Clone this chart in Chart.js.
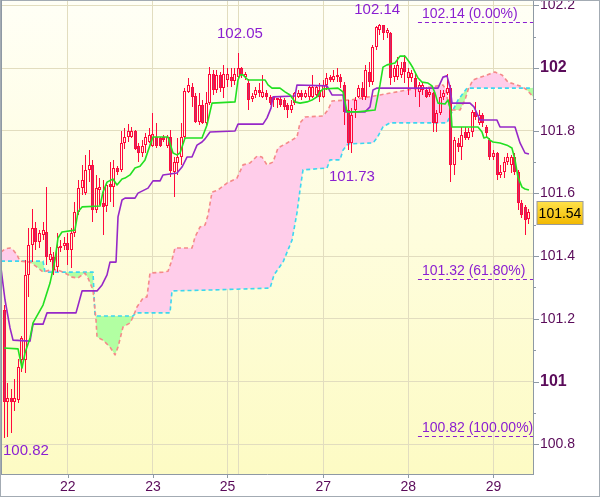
<!DOCTYPE html>
<html lang="en">
<head>
<meta charset="UTF-8">
<title>Ichimoku</title>
<script src="https://cdn.jsdelivr.net/npm/chart.js@4.4.1/dist/chart.umd.min.js"></script>
<style>
  html, body { margin: 0; padding: 0; background: #fff; }
  #wrap { width: 600px; height: 497px; }
</style>
</head>
<body>
<div id="wrap"><canvas id="chart" width="600" height="497"></canvas></div>
<script>
// hourly candles, x = slot number from the left edge
const opens = [101.228,100.935,100.947,100.935,100.941,101.069,101.069,101.340,101.436,101.490,
  101.445,101.467,101.477,101.388,101.397,101.365,101.426,101.432,101.442,101.420,
  101.474,101.541,101.617,101.601,101.675,101.691,101.547,101.611,101.569,101.560,
  101.630,101.620,101.681,101.675,101.761,101.780,101.780,101.799,101.751,101.729,
  101.754,101.764,101.751,101.780,101.777,101.780,101.751,101.780,101.668,101.697,
  101.716,101.780,101.924,101.939,101.911,101.828,101.882,101.825,101.888,101.981,
  101.930,101.978,101.936,101.962,101.971,101.958,101.971,102.000,101.971,101.952,
  101.901,101.914,101.930,101.908,101.920,101.908,101.908,101.898,101.901,101.898,
  101.882,101.866,101.888,101.908,101.920,101.908,101.908,101.908,101.914,101.930,
  101.908,101.946,101.971,101.962,101.971,101.971,101.946,101.866,101.761,101.866,
  101.908,101.936,101.908,101.987,101.955,102.067,102.121,102.137,102.112,102.112,
  101.971,101.971,101.978,102.019,101.968,101.968,101.968,101.924,101.930,101.930,
  101.914,101.920,101.825,101.857,101.908,101.920,101.936,101.691,101.761,101.748,
  101.796,101.777,101.796,101.860,101.825,101.850,101.812,101.770,101.716,101.729,
  101.659,101.668,101.700,101.691,101.716,101.668,101.569,101.557,101.518];
const highs = [101.244,100.995,100.976,101.008,101.072,101.145,101.388,101.490,101.550,101.509,
  101.483,101.509,101.620,101.429,101.413,101.474,101.451,101.461,101.474,101.490,
  101.573,101.643,101.691,101.723,101.738,101.707,101.659,101.649,101.643,101.633,
  101.700,101.707,101.687,101.799,101.809,101.821,101.812,101.802,101.761,101.770,
  101.793,101.809,101.857,101.825,101.780,101.786,101.786,101.802,101.716,101.777,
  101.825,101.936,101.968,101.952,101.920,101.920,101.898,101.924,102.003,101.994,
  101.994,101.987,102.010,102.000,102.000,102.000,102.048,102.003,101.987,101.965,
  101.920,101.939,101.952,101.978,101.930,101.914,101.908,101.904,101.908,101.904,
  101.888,101.898,101.924,101.930,101.930,101.930,101.946,101.978,101.946,101.952,
  101.962,101.984,101.978,101.994,102.000,101.981,101.955,101.898,101.872,101.908,
  101.946,101.955,102.010,102.019,102.073,102.135,102.140,102.137,102.128,102.115,
  102.010,102.035,102.019,102.042,102.000,101.994,101.987,101.955,101.955,101.939,
  101.936,101.924,101.866,101.930,101.930,101.981,101.946,101.780,101.777,101.812,
  101.812,101.809,101.866,101.892,101.866,101.857,101.818,101.777,101.738,101.732,
  101.691,101.716,101.729,101.723,101.729,101.675,101.579,101.563,101.550];
const lows = [100.820,100.822,100.836,100.906,100.932,101.030,101.027,101.270,101.381,101.420,
  101.426,101.451,101.372,101.381,101.340,101.349,101.413,101.420,101.372,101.362,
  101.461,101.531,101.595,101.595,101.636,101.509,101.538,101.563,101.467,101.541,
  101.573,101.557,101.659,101.668,101.742,101.764,101.777,101.738,101.700,101.716,
  101.729,101.761,101.748,101.745,101.748,101.764,101.745,101.652,101.589,101.659,
  101.691,101.777,101.920,101.876,101.825,101.818,101.821,101.818,101.882,101.914,
  101.920,101.924,101.904,101.939,101.939,101.946,101.962,101.968,101.962,101.866,
  101.892,101.904,101.908,101.904,101.898,101.882,101.876,101.872,101.876,101.866,
  101.841,101.857,101.882,101.904,101.898,101.904,101.898,101.904,101.904,101.892,
  101.904,101.930,101.955,101.955,101.955,101.936,101.818,101.740,101.730,101.841,
  101.904,101.898,101.898,101.939,101.946,102.058,102.105,102.089,102.096,101.946,
  101.955,101.962,101.968,101.952,101.914,101.955,101.908,101.876,101.914,101.904,
  101.908,101.796,101.796,101.850,101.898,101.914,101.636,101.659,101.732,101.707,
  101.770,101.770,101.780,101.834,101.818,101.812,101.777,101.707,101.707,101.643,
  101.649,101.649,101.691,101.665,101.659,101.547,101.522,101.467,101.502];
const closes = [100.935,100.947,100.935,100.947,101.046,101.139,101.340,101.436,101.490,101.445,
  101.474,101.483,101.397,101.407,101.356,101.429,101.432,101.442,101.420,101.474,
  101.541,101.617,101.643,101.675,101.691,101.547,101.617,101.620,101.557,101.627,
  101.620,101.681,101.668,101.761,101.780,101.799,101.799,101.742,101.729,101.751,
  101.780,101.786,101.790,101.751,101.751,101.770,101.780,101.672,101.700,101.716,
  101.780,101.927,101.946,101.908,101.828,101.882,101.825,101.888,101.981,101.930,
  101.978,101.936,101.981,101.981,101.958,101.981,102.000,101.978,101.981,101.898,
  101.911,101.930,101.920,101.924,101.908,101.888,101.898,101.904,101.882,101.876,
  101.866,101.882,101.920,101.920,101.908,101.920,101.939,101.939,101.939,101.908,
  101.946,101.968,101.962,101.975,101.978,101.955,101.860,101.761,101.850,101.898,
  101.936,101.908,101.994,101.955,102.067,102.131,102.137,102.112,102.121,101.968,
  102.000,102.010,102.000,101.987,101.987,101.984,101.936,101.946,101.946,101.908,
  101.924,101.825,101.857,101.908,101.920,101.936,101.691,101.770,101.748,101.786,
  101.777,101.796,101.860,101.844,101.850,101.825,101.793,101.716,101.729,101.659,
  101.668,101.700,101.716,101.716,101.668,101.569,101.531,101.515,101.541];

// ichimoku lines, [slot, price] at each corner of the drawn line
const tenkan = [[0,101.107],[3.95,101.104],[5.07,101.043],[5.92,101.091],[7.33,101.139],[8.18,101.187],
  [11,101.244],[12.97,101.314],[14.38,101.388],[15.22,101.458],[16.35,101.477],[20,101.483],
  [20.86,101.541],[22,101.557],[27.07,101.560],[27.9,101.604],[29.04,101.636],[30.73,101.646],
  [31.86,101.627],[33.27,101.646],[34.11,101.649],[35.52,101.659],[36.93,101.681],[38.34,101.687],
  [39.75,101.707],[41.16,101.754],[42,101.780],[46.24,101.780],[47.65,101.729],[48.77,101.723],
  [49.62,101.729],[51.03,101.777],[55.82,101.777],[57.23,101.818],[58.64,101.888],[65.13,101.892],
  [65.97,101.962],[66.54,101.978],[67.38,101.978],[68.79,101.962],[73.58,101.962],[74.43,101.946],
  [75.56,101.936],[77.81,101.936],[79.22,101.924],[80.63,101.914],[82.04,101.892],[83.45,101.888],
  [85.42,101.892],[86.83,101.898],[88.24,101.908],[89.09,101.924],[89.93,101.933],[94.16,101.936],
  [95.57,101.924],[96.7,101.860],[99.8,101.860],[104.6,101.866],[106,101.946],[106.85,102.003],
  [107.98,102.010],[110.23,102.016],[111.64,102.038],[113.05,102.038],[114.46,102.016],[115.31,102.000],
  [116.72,101.968],[117.85,101.955],[119.54,101.952],[120.67,101.943],[121.51,101.920],[122.36,101.888],
  [124.33,101.885],[125.18,101.898],[126.02,101.860],[126.3,101.812],[133.63,101.812],[134.76,101.796],
  [135.3,101.777],[136.17,101.780],[137,101.770],[137.86,101.764],[139.84,101.761],[141.8,101.754],
  [143.2,101.745],[144.07,101.707],[144.9,101.652],[146.04,101.620],[146.89,101.614],[148,101.611]];
const kijun = [[-0.85,101.362],[0.28,101.260],[1.69,101.171],[2.54,101.132],[7.33,101.129],[8.18,101.183],
  [11,101.183],[12.12,101.219],[20.3,101.219],[22,101.289],[26.22,101.289],[27.63,101.308],
  [29.04,101.340],[29.88,101.381],[31.58,101.381],[32.14,101.525],[33.27,101.579],[34.11,101.585],
  [36.93,101.585],[37.78,101.601],[40.6,101.617],[42,101.640],[44,101.640],[44.83,101.659],
  [48.77,101.665],[50.18,101.684],[51.59,101.716],[53,101.716],[54.41,101.754],[55.82,101.764],
  [56.67,101.774],[58.08,101.796],[65.13,101.799],[65.97,101.821],[73.02,101.821],[74.15,101.841],
  [75.27,101.872],[75.84,101.908],[82.04,101.911],[82.6,101.946],[91.06,101.943],[92.47,101.914],
  [95.57,101.914],[96.14,101.860],[101.78,101.860],[103.19,101.876],[104.03,101.930],[105.16,101.936],
  [122.36,101.936],[123.77,101.971],[124.89,101.975],[125.74,101.939],[126.3,101.888],[131.38,101.888],
  [132.5,101.876],[134.2,101.834],[138.99,101.834],[139.84,101.812],[144.07,101.812],[145.48,101.761],
  [146.89,101.729],[148,101.726]];
const spanA = [[-0.85,101.413],[0.28,101.423],[1.69,101.426],[2.54,101.420],[3.67,101.404],[4.51,101.384],
  [7.33,101.381],[9.3,101.365],[11,101.349],[12.97,101.356],[15.22,101.356],[17.2,101.346],
  [19.17,101.333],[20.86,101.330],[22,101.340],[22.84,101.346],[23.68,101.330],[25.09,101.292],
  [25.94,101.196],[26.22,101.142],[27.9,101.132],[29.88,101.110],[31.3,101.085],[32.14,101.110],
  [33.55,101.174],[35.52,101.187],[36.37,101.206],[37.5,101.238],[39.19,101.266],[40.3,101.270],
  [41.16,101.346],[44.83,101.349],[46.24,101.352],[47.36,101.388],[48.21,101.426],[53,101.426],
  [53.85,101.461],[55.26,101.493],[56.67,101.499],[57.51,101.531],[58.64,101.604],[60.33,101.611],
  [62.87,101.633],[65.69,101.649],[67.38,101.691],[69.35,101.697],[71.33,101.719],[72.74,101.716],
  [74.15,101.691],[75.84,101.700],[77.25,101.745],[79.79,101.761],[82.6,101.780],[83.45,101.825],
  [84.86,101.844],[89.93,101.847],[91.34,101.866],[92.47,101.895],[97.55,101.898],[106,101.914],
  [110.8,101.924],[115.31,101.933],[120.1,101.939],[123.77,101.946],[124.61,101.930],[125.18,101.888],
  [126.3,101.866],[128.56,101.866],[129.97,101.898],[130.82,101.930],[132.2,101.962],[136.17,101.978],
  [138.4,101.987],[140.4,101.978],[142.1,101.955],[144.6,101.946],[146.3,101.939],[147.45,101.930],
  [149.14,101.908]];
const spanB = [[-0.85,101.384],[11,101.384],[11.56,101.349],[25.09,101.349],[25.66,101.209],[36.37,101.209],
  [37.2,101.219],[46.8,101.219],[47.36,101.289],[58.64,101.292],[75,101.298],[76.12,101.340],
  [78.66,101.381],[81.2,101.451],[82.6,101.538],[83.45,101.611],[84.3,101.675],[91.06,101.681],
  [91.91,101.707],[94.73,101.707],[95.57,101.738],[96.98,101.758],[104.03,101.761],[105.16,101.777],
  [106.85,101.812],[108.82,101.825],[124.89,101.825],[126.3,101.860],[128,101.898],[130.53,101.936],
  [149.14,101.936]];

const dayTicks = [18, 42, 63, 66, 90, 114, 138];
const dayLabels = ['22', '23', '25', '', '27', '28', '29'];

const fibValues = [102.14, 101.32, 100.82];
const fibLabels = ['102.14 (0.00%)', '101.32 (61.80%)', '100.82 (100.00%)'];
const fibStart = 116.7;

const extremeSlots = [66.5, 105.2, 98.1, 0];
const extremeValues = [102.05, 102.14, 101.73, 100.82];
const extremeLabels = ['102.05', '102.14', '101.73', '100.82'];
const extremeSides = ['above', 'above', 'below', 'below'];

const lastPrice = 101.54;

const FONT = '"Liberation Sans", Arial, sans-serif';
const RED = '#ff0a3c';
const AXIS = '#8e99a4';
const GRID = '#e2ddbf';
const LABEL = '#5a0b5a';
const ANNO = '#8b1fd1';
const labelGap = [18, 15, 24, 13];

const slots = closes.map((c, i) => i);
const bodies = slots.map(i => ({x: i, y: [opens[i], closes[i]]}));
const upperWicks = slots.map(i => ({x: i, y: [Math.max(opens[i], closes[i]), Math.max(highs[i], opens[i], closes[i])]}));
const lowerWicks = slots.map(i => ({x: i, y: [Math.min(lows[i], opens[i], closes[i]), Math.min(opens[i], closes[i])]}));
const toXY = arr => arr.map(p => ({x: p[0], y: p[1]}));

function isMajor(v) { return Math.round(v * 10) % 2 === 0; }
function isWhole(v) { return Math.abs(v - Math.round(v)) < 1e-6; }

const background = {
  id: 'background',
  beforeDraw(chart) {
    const {ctx, chartArea: a} = chart;
    ctx.save();
    ctx.fillStyle = '#ffffff';
    ctx.fillRect(0, 0, chart.width, chart.height);
    const g = ctx.createLinearGradient(0, a.top, 0, a.bottom);
    g.addColorStop(0, '#fffff6');
    g.addColorStop(1, '#fdfbc4');
    ctx.fillStyle = g;
    ctx.fillRect(a.left, a.top, a.right - a.left, a.bottom - a.top);
    ctx.restore();
  }
};

// snap candle bars to whole pixels so they stay crisp
const snapBars = {
  id: 'snapBars',
  beforeDatasetsDraw(chart) {
    chart.data.datasets.forEach((ds, i) => {
      const meta = chart.getDatasetMeta(i);
      if (meta.type !== 'bar') return;
      meta.data.forEach(el => {
        el.x = Math.floor(el.x) + 0.5;
        let top = Math.round(Math.min(el.y, el.base));
        let bot = Math.round(Math.max(el.y, el.base));
        if (bot - top < 1) bot = top + 1;
        el.y = top;
        el.base = bot;
      });
    });
  }
};

const overlay = {
  id: 'overlay',
  afterDatasetsDraw(chart) {
    const {ctx, chartArea: a, scales: {x, y}} = chart;
    ctx.save();
    ctx.beginPath();
    ctx.rect(a.left, a.top, a.right - a.left, a.bottom - a.top);
    ctx.clip();
    // fibonacci levels
    ctx.strokeStyle = ANNO;
    ctx.fillStyle = ANNO;
    ctx.lineWidth = 1;
    ctx.setLineDash([4, 3]);
    ctx.font = '14px ' + FONT;
    ctx.textAlign = 'left';
    ctx.textBaseline = 'bottom';
    const fx = x.getPixelForValue(fibStart);
    fibValues.forEach((v, k) => {
      const py = Math.round(y.getPixelForValue(v)) - 1.5;
      ctx.beginPath();
      ctx.moveTo(fx, py);
      ctx.lineTo(a.right, py);
      ctx.stroke();
      ctx.fillText(fibLabels[k], fx + 4, py - 1);
    });
    ctx.setLineDash([]);
    // high / low labels
    ctx.font = '15px ' + FONT;
    ctx.textAlign = 'center';
    ctx.textBaseline = 'middle';
    extremeValues.forEach((v, k) => {
      const w = ctx.measureText(extremeLabels[k]).width;
      let px = x.getPixelForValue(extremeSlots[k]);
      px = Math.max(px, a.left + 2 + w / 2);
      let py = y.getPixelForValue(v) + (extremeSides[k] === 'above' ? -labelGap[k] : labelGap[k]);
      py = Math.max(a.top + 10, Math.min(a.bottom - 10, py));
      ctx.fillText(extremeLabels[k], px, py);
    });
    ctx.restore();
  },
  afterDraw(chart) {
    const {ctx, chartArea: a, scales: {x, y}} = chart;
    ctx.save();
    ctx.strokeStyle = AXIS;
    ctx.lineWidth = 1;
    // tick marks
    for (let k = 1008; k <= 1022; k++) {
      const py = Math.round(y.getPixelForValue(k / 10)) + 0.5;
      ctx.beginPath();
      ctx.moveTo(a.right, py);
      ctx.lineTo(a.right + (isMajor(k / 10) ? 6 : 3), py);
      ctx.stroke();
    }
    dayTicks.forEach((d, k) => {
      if (!dayLabels[k]) return;
      const px = Math.round(x.getPixelForValue(d)) + 0.5;
      ctx.beginPath();
      ctx.moveTo(px, a.bottom);
      ctx.lineTo(px, a.bottom + 4);
      ctx.stroke();
    });
    // last price box
    const ly = y.getPixelForValue(lastPrice);
    const bx = a.right + 4, bw = 46, bh = 23, by = Math.round(ly - bh / 2) + 0.5;
    const g = ctx.createLinearGradient(0, by, 0, by + bh);
    g.addColorStop(0, '#ffe24a');
    g.addColorStop(1, '#f2b800');
    ctx.fillStyle = g;
    ctx.fillRect(bx, by, bw, bh);
    ctx.strokeStyle = '#9a9a9a';
    ctx.strokeRect(bx, by, bw, bh);
    ctx.fillStyle = '#000';
    ctx.font = '14px ' + FONT;
    ctx.textAlign = 'center';
    ctx.textBaseline = 'middle';
    ctx.fillText(lastPrice.toFixed(2), bx + bw / 2, by + bh / 2 + 1);
    // frame
    ctx.strokeStyle = '#a3abb3';
    ctx.strokeRect(0.5, 0.5, chart.width - 1, chart.height - 1);
    ctx.strokeStyle = AXIS;
    ctx.beginPath();
    ctx.moveTo(a.left + 0.5, a.top);
    ctx.lineTo(a.left + 0.5, a.bottom);
    ctx.stroke();
    ctx.restore();
  }
};

const barCommon = {
  type: 'bar',
  grouped: false,
  borderSkipped: false,
  inflateAmount: 0
};

new Chart('chart', {
  type: 'line',
  data: {
    datasets: [
      {
        label: 'Senkou B',
        data: toXY(spanB),
        borderColor: '#3cd6f0',
        borderWidth: 1.6,
        borderDash: [4, 3],
        pointRadius: 0,
        fill: false,
        order: 6
      },
      {
        label: 'Senkou A',
        data: toXY(spanA),
        borderColor: '#f58a8a',
        borderWidth: 1.6,
        borderDash: [4, 3],
        pointRadius: 0,
        fill: {target: 0, above: '#ffcdea', below: '#b2ffa2'},
        order: 5
      },
      Object.assign({}, barCommon, {
        label: 'upper wick',
        data: upperWicks,
        barThickness: 1,
        backgroundColor: RED,
        borderWidth: 0,
        order: 4
      }),
      Object.assign({}, barCommon, {
        label: 'lower wick',
        data: lowerWicks,
        barThickness: 1,
        backgroundColor: RED,
        borderWidth: 0,
        order: 4
      }),
      Object.assign({}, barCommon, {
        label: 'body',
        data: bodies,
        barThickness: 3,
        borderWidth: 1,
        borderColor: RED,
        backgroundColor: slots.map(i => closes[i] < opens[i] ? '#c8306a' : 'rgba(0,0,0,0)'),
        order: 3
      }),
      {
        label: 'Kijun',
        data: toXY(kijun),
        borderColor: '#9628c8',
        borderWidth: 1.6,
        pointRadius: 0,
        fill: false,
        order: 2
      },
      {
        label: 'Tenkan',
        data: toXY(tenkan),
        borderColor: '#22e022',
        borderWidth: 1.6,
        pointRadius: 0,
        fill: false,
        order: 1
      }
    ]
  },
  options: {
    responsive: false,
    animation: false,
    events: [],
    layout: {padding: {left: 1, top: 0, right: 0, bottom: 0}},
    elements: {line: {tension: 0, borderJoinStyle: 'round'}},
    plugins: {
      legend: {display: false},
      tooltip: {enabled: false},
      filler: {propagate: false, drawTime: 'beforeDatasetsDraw'}
    },
    scales: {
      x: {
        type: 'linear',
        min: -0.85,
        max: 149.14,
        offset: false,
        afterBuildTicks: s => { s.ticks = dayTicks.map(v => ({value: v})); },
        afterFit: s => { s.height = 23; s.paddingLeft = 0; s.paddingRight = 0; },
        grid: {color: GRID, drawTicks: false, offset: false},
        border: {color: AXIS},
        ticks: {
          autoSkip: false,
          maxRotation: 0,
          padding: 5,
          color: LABEL,
          font: {family: FONT, size: 14},
          callback: (v, i) => dayLabels[i]
        }
      },
      y: {
        position: 'right',
        min: 100.705,
        max: 102.217,
        beginAtZero: false,
        afterBuildTicks: s => {
          const t = [];
          for (let k = 1008; k <= 1022; k++) t.push({value: k / 10});
          s.ticks = t;
        },
        afterFit: s => { s.width = 67; s.paddingTop = 0; s.paddingBottom = 0; },
        grid: {
          color: c => (c.tick && !isMajor(c.tick.value)) ? 'rgba(0,0,0,0)' : GRID,
          drawTicks: false
        },
        border: {color: AXIS},
        ticks: {
          autoSkip: false,
          padding: 7,
          color: LABEL,
          font: c => (c.tick && isWhole(c.tick.value))
            ? {family: FONT, size: 16, weight: 'bold'}
            : {family: FONT, size: 14},
          callback: v => {
            if (isWhole(v)) return String(Math.round(v));
            return isMajor(v) ? v.toFixed(1) : '';
          }
        }
      }
    }
  },
  plugins: [background, snapBars, overlay]
});
</script>
</body>
</html>
